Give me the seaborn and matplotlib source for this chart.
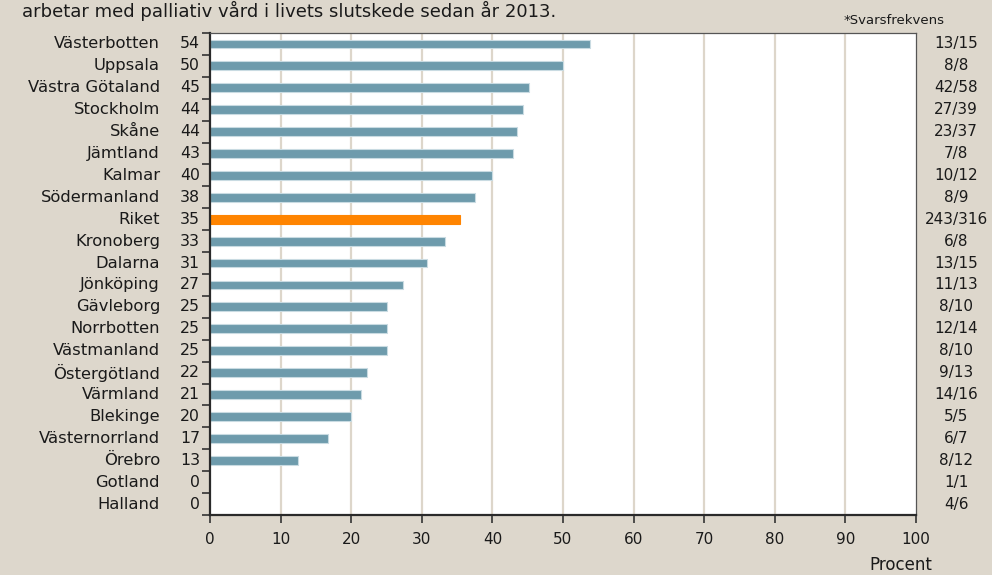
import matplotlib
matplotlib.use("Agg")
import matplotlib.pyplot as plt
import seaborn as sns
import pandas as pd
from matplotlib.ticker import FixedLocator

regions = ["Västerbotten", "Uppsala", "Västra Götaland", "Stockholm", "Skåne", "Jämtland",
           "Kalmar", "Södermanland", "Riket", "Kronoberg", "Dalarna", "Jönköping",
           "Gävleborg", "Norrbotten", "Västmanland", "Östergötland", "Värmland",
           "Blekinge", "Västernorrland", "Örebro", "Gotland", "Halland"]
values = [53.8, 50.0, 45.2, 44.4, 43.5, 42.9, 40.0, 37.5, 35.4, 33.3, 30.8, 27.3,
          25.0, 25.0, 25.0, 22.2, 21.4, 20.0, 16.7, 12.5, 0.0, 0.0]
value_labels = ["54", "50", "45", "44", "44", "43", "40", "38", "35", "33", "31", "27",
                "25", "25", "25", "22", "21", "20", "17", "13", "0", "0"]
response = ["13/15", "8/8", "42/58", "27/39", "23/37", "7/8", "10/12", "8/9", "243/316",
            "6/8", "13/15", "11/13", "8/10", "12/14", "8/10", "9/13", "14/16", "5/5",
            "6/7", "8/12", "1/1", "4/6"]
x_ticks = [0, 10, 20, 30, 40, 50, 60, 70, 80, 90, 100]
title_text = "arbetar med palliativ vård i livets slutskede sedan år 2013."

BG = "#ddd7cc"
BAR = "#6e9bac"
HIGHLIGHT = "#ff8400"
GRID = "#ddd6ca"
TXT = "#1a1a1a"

sns.set_theme(style="white")
plt.rcParams["font.family"] = ["DejaVu Sans"]

df = pd.DataFrame({"region": regions, "value": values})
palette = {r: (HIGHLIGHT if r == "Riket" else BAR) for r in regions}

fig = plt.figure(figsize=(9.92, 5.75), dpi=100, facecolor=BG)
ax = fig.add_axes([210 / 992, 1 - 515 / 575, 706 / 992, 482 / 575])
ax.set_facecolor("white")

sns.barplot(data=df, y="region", x="value", hue="region", palette=palette,
            legend=False, orient="h", width=0.4, ax=ax, saturation=1,
            edgecolor="#c9dbe2", linewidth=0.8)
for p, r in zip(ax.patches, regions):
    if r == "Riket":
        p.set_edgecolor(HIGHLIGHT)

ax.set_xlim(0, 100)
ax.set_ylim(len(regions) - 0.5, -0.5)
ax.set_xticks(x_ticks)
ax.set_xticklabels([str(t) for t in x_ticks], fontsize=11, color=TXT)
for t in x_ticks[1:-1]:
    ax.axvline(t, color=GRID, lw=1.6, zorder=0)
ax.set_axisbelow(True)

ax.set_yticks(range(len(regions)))
ax.set_yticklabels([])
ax.yaxis.set_minor_locator(FixedLocator([i - 0.5 for i in range(len(regions) + 1)]))
ax.tick_params(axis="y", which="major", length=0)
ax.tick_params(axis="y", which="minor", length=6, width=1.2, color="#333333", direction="out", left=True)
ax.tick_params(axis="x", which="major", length=6, width=1.2, color="#333333", direction="out",
               bottom=True, pad=6)
ax.set_xlabel("")
ax.set_ylabel("")

for s in ["left", "bottom"]:
    ax.spines[s].set_color("#2a2a2a")
    ax.spines[s].set_linewidth(1.6)
for s in ["top", "right"]:
    ax.spines[s].set_color("#555555")
    ax.spines[s].set_linewidth(0.9)

ytr = ax.get_yaxis_transform()
for i, (r, vl, rs) in enumerate(zip(regions, value_labels, response)):
    ax.text(-0.0708, i, r, transform=ytr, ha="right", va="center", fontsize=11.8, color=TXT)
    ax.text(-0.0142, i, vl, transform=ytr, ha="right", va="center", fontsize=11.3, color=TXT)
    ax.text(1.0567, i, rs, transform=ytr, ha="center", va="center", fontsize=11, color=TXT)

fig.text(945 / 992, 1 - 20 / 575, "*Svarsfrekvens", ha="right", va="center", fontsize=9.5, color=TXT)
fig.text(932 / 992, 1 - 565 / 575, "Procent", ha="right", va="center", fontsize=12, color=TXT)
fig.text(22 / 992, 1 - 1 / 575, title_text, ha="left", va="top", fontsize=13, color=TXT)

fig.savefig("out.png", dpi=100, facecolor=BG)
